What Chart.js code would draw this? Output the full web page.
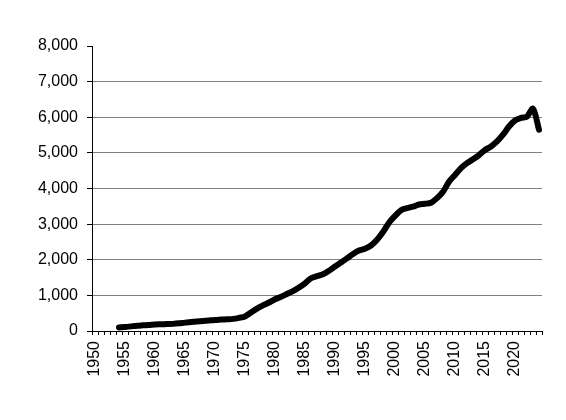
<!DOCTYPE html>
<html>
<head>
<meta charset="utf-8">
<script src="https://cdn.jsdelivr.net/npm/chart.js@4"></script>
<style>
  html, body { margin: 0; padding: 0; background: #fff; }
  #wrap { width: 566px; height: 420px; }
</style>
</head>
<body>
<div id="wrap"><canvas id="myChart" width="566" height="420"></canvas></div>
<script>
// categories: one per year, labels shown every 5 years
const years = [];
for (let y = 1950; y <= 2024; y++) years.push(y);

// values, 1954 - 2024
const firstYear = 1954;
const values = [
  100, 110, 130, 150, 160, 170, 185, 190, 195, 200,      // 1954-1963
  215, 235, 250, 265, 280, 295, 310, 320, 330, 340,      // 1964-1973
  370, 410, 520, 630, 720, 800, 890, 960, 1040, 1120,    // 1974-1983
  1220, 1340, 1480, 1540, 1590, 1690, 1810, 1920, 2040, 2160, // 1984-1993
  2260, 2310, 2400, 2560, 2780, 3040, 3230, 3390, 3450, 3490, // 1994-2003
  3550, 3570, 3600, 3730, 3910, 4190, 4380, 4570, 4710, 4820, // 2004-2013
  4940, 5080, 5180, 5320, 5510, 5740, 5910, 5980, 6020, 6240, // 2014-2023
  5650                                                    // 2024
];

const yTicks = [0, 1000, 2000, 3000, 4000, 5000, 6000, 7000, 8000];

// pad the series so it lines up with the year categories
const seriesData = years.map((y) => {
  const i = y - firstYear;
  return i >= 0 && i < values.length ? values[i] : null;
});

const ctx = document.getElementById("myChart");

const myChart = new Chart(ctx, {
  type: "line",
  data: {
    labels: years,
    datasets: [
      {
        data: seriesData,
        borderColor: "#000",
        borderWidth: 6,
        tension: 0.3,
        pointRadius: 0,
        borderCapStyle: "round",
        borderJoinStyle: "round",
        fill: false,
      },
    ],
  },
  options: {
    responsive: false,
    animation: false,
    layout: { padding: { left: 0, right: 24, top: 46, bottom: 0 } },
    plugins: { legend: { display: false }, tooltip: { enabled: false } },
    scales: {
      x: {
        type: "category",
        offset: true,
        grid: {
          offset: true,
          drawOnChartArea: false,
          tickLength: 4,
          tickColor: "#000",
        },
        border: { color: "#000", width: 1 },
        ticks: {
          autoSkip: false,
          minRotation: 90,
          maxRotation: 90,
          padding: 6,
          color: "#000",
          font: { family: "'Liberation Sans', Arial, sans-serif", size: 16 },
          callback: (val, i) => (years[i] % 5 === 0 ? String(years[i]) : ""),
        },
        afterFit: (scale) => {
          scale.height = 89;
        },
      },
      y: {
        min: 0,
        max: 8000,
        afterBuildTicks: (scale) => {
          scale.ticks = yTicks.map((v) => ({ value: v }));
        },
        grid: {
          color: (c) => (c.tick && c.tick.value === 8000 ? "rgba(0,0,0,0)" : "#808080"),
          tickColor: "#000",
          tickLength: 5,
          lineWidth: 1,
        },
        border: { color: "#000", width: 1 },
        ticks: {
          padding: 9,
          color: "#000",
          font: { family: "'Liberation Sans', Arial, sans-serif", size: 16 },
          callback: (v) => v.toLocaleString("en-US"),
        },
        afterFit: (scale) => {
          scale.width = 92;
        },
      },
    },
  },
});
</script>
</body>
</html>
